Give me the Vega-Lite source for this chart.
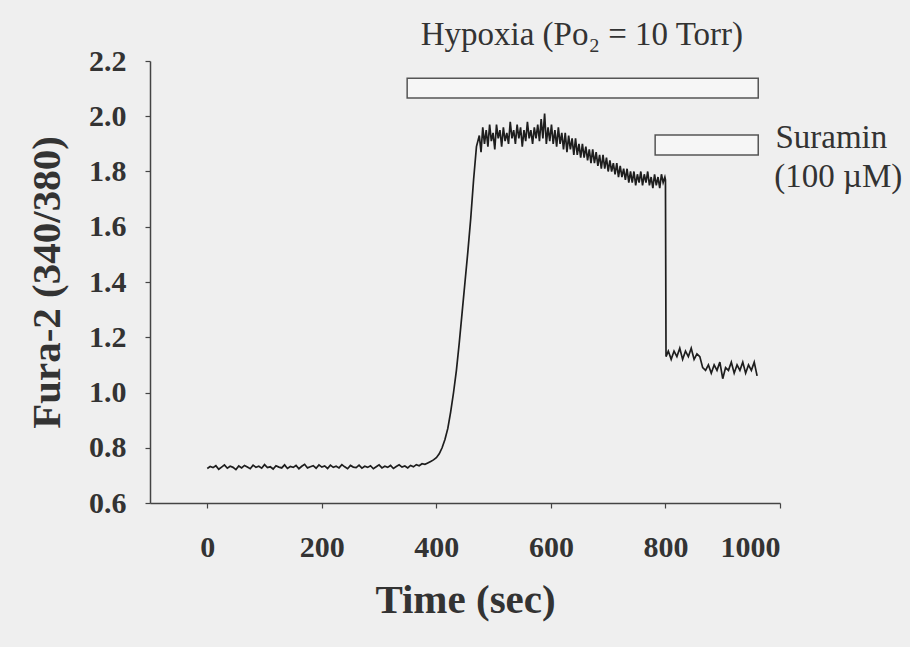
{
  "$schema": "https://vega.github.io/schema/vega-lite/v6.json",
  "width": 630,
  "height": 442,
  "autosize": {"type": "none"},
  "padding": {"left": 150, "top": 61, "right": 130, "bottom": 144},
  "background": "#efefef",
  "config": {
    "view": {"stroke": null},
    "axis": {"grid": false, "domainColor": "#444", "tickColor": "#444", "domainWidth": 1.5, "tickWidth": 1.2,
      "labelFont": "Liberation Serif", "labelFontWeight": "bold", "labelFontSize": 30, "labelColor": "#333",
      "titleFont": "Liberation Serif", "titleFontWeight": "bold", "titleColor": "#333"}
  },
  "datasets": {
    "trace": [
      {"t":0,"r":0.725},{"t":5,"r":0.732},{"t":10,"r":0.728},{"t":15,"r":0.735},{"t":20,"r":0.722},{"t":25,"r":0.730},{"t":30,"r":0.738},{"t":35,"r":0.726},{"t":40,"r":0.733},{"t":45,"r":0.729},
      {"t":50,"r":0.721},{"t":55,"r":0.734},{"t":60,"r":0.727},{"t":65,"r":0.736},{"t":70,"r":0.730},{"t":75,"r":0.724},{"t":80,"r":0.737},{"t":85,"r":0.729},{"t":90,"r":0.733},{"t":95,"r":0.726},
      {"t":100,"r":0.739},{"t":105,"r":0.728},{"t":110,"r":0.731},{"t":115,"r":0.723},{"t":120,"r":0.735},{"t":125,"r":0.730},{"t":130,"r":0.727},{"t":135,"r":0.738},{"t":140,"r":0.725},{"t":145,"r":0.732},
      {"t":150,"r":0.729},{"t":155,"r":0.736},{"t":160,"r":0.724},{"t":165,"r":0.733},{"t":170,"r":0.740},{"t":175,"r":0.727},{"t":180,"r":0.731},{"t":185,"r":0.735},{"t":190,"r":0.726},{"t":195,"r":0.738},
      {"t":200,"r":0.730},{"t":205,"r":0.734},{"t":210,"r":0.725},{"t":215,"r":0.737},{"t":220,"r":0.729},{"t":225,"r":0.733},{"t":230,"r":0.727},{"t":235,"r":0.739},{"t":240,"r":0.731},{"t":245,"r":0.724},
      {"t":250,"r":0.736},{"t":255,"r":0.730},{"t":260,"r":0.728},{"t":265,"r":0.737},{"t":270,"r":0.726},{"t":275,"r":0.733},{"t":280,"r":0.729},{"t":285,"r":0.735},{"t":290,"r":0.724},{"t":295,"r":0.731},
      {"t":300,"r":0.738},{"t":305,"r":0.727},{"t":310,"r":0.733},{"t":315,"r":0.729},{"t":320,"r":0.736},{"t":325,"r":0.725},{"t":330,"r":0.732},{"t":335,"r":0.738},{"t":340,"r":0.730},{"t":345,"r":0.734},
      {"t":350,"r":0.727},{"t":355,"r":0.736},{"t":360,"r":0.731},{"t":365,"r":0.739},{"t":370,"r":0.735},{"t":375,"r":0.742},{"t":380,"r":0.740},{"t":385,"r":0.745},{"t":390,"r":0.750},{"t":395,"r":0.756},
      {"t":400,"r":0.764},{"t":405,"r":0.778},{"t":410,"r":0.80},{"t":415,"r":0.83},{"t":420,"r":0.87},{"t":425,"r":0.93},{"t":430,"r":1.00},{"t":435,"r":1.08},{"t":440,"r":1.18},{"t":445,"r":1.29},
      {"t":450,"r":1.40},{"t":455,"r":1.51},{"t":460,"r":1.63},{"t":465,"r":1.77},{"t":470,"r":1.89},{"t":475,"r":1.93},
      {"t":478,"r":1.87},{"t":481,"r":1.96},{"t":484,"r":1.90},{"t":487,"r":1.95},{"t":490,"r":1.89},{"t":493,"r":1.97},{"t":496,"r":1.91},{"t":499,"r":1.94},{"t":502,"r":1.88},{"t":505,"r":1.97},
      {"t":508,"r":1.92},{"t":511,"r":1.95},{"t":514,"r":1.89},{"t":517,"r":1.96},{"t":520,"r":1.91},{"t":523,"r":1.94},{"t":526,"r":1.90},{"t":529,"r":1.98},{"t":532,"r":1.92},{"t":535,"r":1.95},
      {"t":538,"r":1.90},{"t":541,"r":1.97},{"t":544,"r":1.92},{"t":547,"r":1.96},{"t":550,"r":1.89},{"t":553,"r":1.95},{"t":556,"r":1.91},{"t":559,"r":1.98},{"t":562,"r":1.92},{"t":565,"r":1.95},
      {"t":568,"r":1.90},{"t":571,"r":1.96},{"t":574,"r":1.92},{"t":577,"r":1.97},{"t":580,"r":1.91},{"t":583,"r":1.99},{"t":586,"r":1.92},{"t":589,"r":2.01},{"t":592,"r":1.90},{"t":595,"r":1.96},
      {"t":598,"r":1.91},{"t":601,"r":1.97},{"t":604,"r":1.90},{"t":607,"r":1.95},{"t":610,"r":1.89},{"t":613,"r":1.96},{"t":616,"r":1.90},{"t":619,"r":1.94},{"t":622,"r":1.88},{"t":625,"r":1.94},
      {"t":628,"r":1.87},{"t":631,"r":1.93},{"t":634,"r":1.88},{"t":637,"r":1.92},{"t":640,"r":1.86},{"t":643,"r":1.92},{"t":646,"r":1.86},{"t":649,"r":1.90},{"t":652,"r":1.85},{"t":655,"r":1.90},
      {"t":658,"r":1.85},{"t":661,"r":1.89},{"t":664,"r":1.84},{"t":667,"r":1.88},{"t":670,"r":1.83},{"t":673,"r":1.88},{"t":676,"r":1.83},{"t":679,"r":1.87},{"t":682,"r":1.82},{"t":685,"r":1.86},
      {"t":688,"r":1.81},{"t":691,"r":1.86},{"t":694,"r":1.81},{"t":697,"r":1.85},{"t":700,"r":1.80},{"t":703,"r":1.84},{"t":706,"r":1.80},{"t":709,"r":1.83},{"t":712,"r":1.79},{"t":715,"r":1.83},
      {"t":718,"r":1.78},{"t":721,"r":1.82},{"t":724,"r":1.78},{"t":727,"r":1.81},{"t":730,"r":1.77},{"t":733,"r":1.81},{"t":736,"r":1.76},{"t":739,"r":1.80},{"t":742,"r":1.76},{"t":745,"r":1.80},
      {"t":748,"r":1.75},{"t":751,"r":1.79},{"t":754,"r":1.76},{"t":757,"r":1.80},{"t":760,"r":1.75},{"t":763,"r":1.79},{"t":766,"r":1.76},{"t":769,"r":1.80},{"t":772,"r":1.75},{"t":775,"r":1.78},
      {"t":778,"r":1.74},{"t":781,"r":1.79},{"t":784,"r":1.75},{"t":787,"r":1.78},{"t":790,"r":1.74},{"t":793,"r":1.79},{"t":796,"r":1.76},{"t":799,"r":1.78},{"t":800,"r":1.77},{"t":801,"r":1.13},
      {"t":805,"r":1.15},{"t":810,"r":1.12},{"t":815,"r":1.15},{"t":820,"r":1.13},{"t":825,"r":1.16},{"t":830,"r":1.12},{"t":835,"r":1.15},{"t":840,"r":1.13},{"t":845,"r":1.16},{"t":850,"r":1.12},
      {"t":855,"r":1.14},{"t":860,"r":1.13},{"t":865,"r":1.09},{"t":870,"r":1.08},{"t":875,"r":1.10},{"t":880,"r":1.07},{"t":885,"r":1.10},{"t":890,"r":1.08},{"t":895,"r":1.11},{"t":900,"r":1.05},
      {"t":905,"r":1.09},{"t":910,"r":1.08},{"t":915,"r":1.11},{"t":920,"r":1.07},{"t":925,"r":1.10},{"t":930,"r":1.08},{"t":935,"r":1.11},{"t":940,"r":1.07},{"t":945,"r":1.10},{"t":950,"r":1.08},
      {"t":955,"r":1.11},{"t":960,"r":1.06}
    ],
    "bars": [
      {"x1":349,"x2":962,"y1":2.066,"y2":2.138},
      {"x1":782,"x2":962,"y1":1.860,"y2":1.932}
    ],
    "toplabel": [
      {"x":654,"y":2.294,"text":"Hypoxia (Po₂ = 10 Torr)"}
    ],
    "sidelabels": [
      {"x":992,"y":1.921,"text":"Suramin"},
      {"x":990,"y":1.780,"text":"(100 µM)"}
    ]
  },
  "layer": [
    {
      "data": {"name": "bars"},
      "mark": {"type": "rect", "fill": "#f6f6f6", "stroke": "#555", "strokeWidth": 1.5},
      "encoding": {
        "x": {"field": "x1", "type": "quantitative", "scale": {"domain": [-100, 1000]},
          "axis": {"values": [0,200,400,600,800,1000], "format": "d", "title": "Time (sec)", "titleFontSize": 41, "tickSize": 5, "labelPadding": 24, "titlePadding": 18}},
        "x2": {"field": "x2"},
        "y": {"field": "y1", "type": "quantitative", "scale": {"domain": [0.6, 2.2]},
          "axis": {"values": [0.6,0.8,1.0,1.2,1.4,1.6,1.8,2.0,2.2], "format": ".1f", "title": "Fura-2 (340/380)", "titleFontSize": 41, "tickSize": 5, "labelPadding": 19, "titlePadding": 20}},
        "y2": {"field": "y2"}
      }
    },
    {
      "data": {"name": "trace"},
      "mark": {"type": "line", "color": "#1e1e1e", "strokeWidth": 1.7},
      "encoding": {
        "x": {"field": "t", "type": "quantitative"},
        "y": {"field": "r", "type": "quantitative"}
      }
    },
    {
      "data": {"name": "toplabel"},
      "mark": {"type": "text", "font": "Liberation Serif", "fontSize": 33, "color": "#333", "baseline": "middle", "align": "center"},
      "encoding": {
        "x": {"field": "x", "type": "quantitative"},
        "y": {"field": "y", "type": "quantitative"},
        "text": {"field": "text"}
      }
    },
    {
      "data": {"name": "sidelabels"},
      "mark": {"type": "text", "font": "Liberation Serif", "fontSize": 33, "color": "#333", "baseline": "middle", "align": "left"},
      "encoding": {
        "x": {"field": "x", "type": "quantitative"},
        "y": {"field": "y", "type": "quantitative"},
        "text": {"field": "text"}
      }
    }
  ]
}
